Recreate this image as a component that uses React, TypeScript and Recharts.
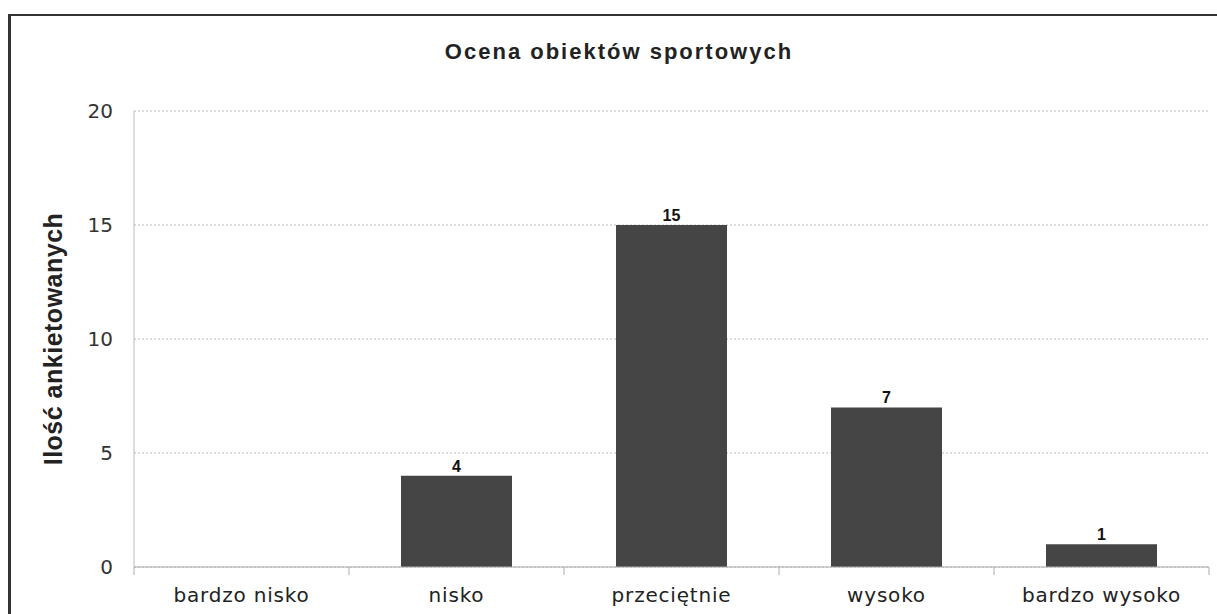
import React from 'react';
import { BarChart, Bar, XAxis, YAxis, CartesianGrid, LabelList } from 'recharts';

const categories = ['bardzo nisko', 'nisko', 'przeciętnie', 'wysoko', 'bardzo wysoko'];
const counts = [0, 4, 15, 7, 1];
const yTicks = [0, 5, 10, 15, 20];

const data = categories.map((category, i) => ({ category, count: counts[i] }));

const XTick = (props: any) => {
  const { x, y, payload, index, visibleTicksCount, width } = props;
  const half = payload && payload.offset ? payload.offset : width / visibleTicksCount / 2;
  const last = index === visibleTicksCount - 1;
  return (
    <g>
      <line x1={x - half} x2={x - half} y1={y} y2={y + 8} stroke="#aaa" />
      {last && <line x1={x + half} x2={x + half} y1={y} y2={y + 8} stroke="#aaa" />}
      <text
        x={x}
        y={y + 35}
        textAnchor="middle"
        fill="#222"
        fontSize={20}
        fontFamily="DejaVu Sans"
        letterSpacing={0.8}
      >
        {payload.value}
      </text>
    </g>
  );
};

const YLabel = (props: any) => {
  const vb = props.viewBox;
  const cx = 52;
  const cy = vb.y + vb.height / 2;
  return (
    <text
      x={cx}
      y={cy}
      transform={`rotate(-90, ${cx}, ${cy})`}
      textAnchor="middle"
      fill="#222"
      fontSize={25}
      fontWeight="bold"
      fontFamily="Liberation Sans"
      letterSpacing={0.5}
    >
      Ilość ankietowanych
    </text>
  );
};

const App: React.FC = () => {
  return (
    <div
      style={{
        position: 'absolute',
        left: 8,
        top: 14,
        width: 1209,
        height: 600,
        boxSizing: 'border-box',
        borderTop: '2px solid #333',
        borderLeft: '3px solid #333',
        background: '#fff',
      }}
    >
      <div
        style={{
          position: 'absolute',
          left: 0,
          width: 1216,
          top: 25,
          textAlign: 'center',
          fontFamily: 'Liberation Sans',
          fontWeight: 'bold',
          fontSize: 22,
          lineHeight: '22px',
          letterSpacing: 2,
          color: '#222',
        }}
      >
        Ocena obiektów sportowych
      </div>
      <div style={{ position: 'absolute', left: -1, top: 0 }}>
        <BarChart
          width={1207}
          height={598}
          data={data}
          margin={{ top: 95, right: 8, bottom: 0, left: 0 }}
        >
          <CartesianGrid horizontal vertical={false} stroke="#bbb" strokeDasharray="2 2" />
          <XAxis
            dataKey="category"
            height={47}
            tickSize={0}
            tickMargin={0}
            tickLine={false}
            axisLine={{ stroke: '#aaa' }}
            tick={<XTick />}
            interval={0}
          />
          <YAxis
            width={124}
            domain={[0, 20]}
            ticks={yTicks}
            tickSize={0}
            tickMargin={21}
            tickLine={false}
            axisLine={{ stroke: '#bbb' }}
            tick={{ fill: '#333', fontSize: 20, fontFamily: 'DejaVu Sans' }}
            label={<YLabel />}
          />
          <YAxis
            yAxisId="r"
            orientation="right"
            width={0}
            domain={[0, 20]}
            ticks={yTicks}
            tick={false}
            tickLine={false}
            axisLine={{ stroke: '#bbb' }}
          />
          <Bar dataKey="count" fill="#454545" barSize={111} isAnimationActive={false}>
            <LabelList
              dataKey="count"
              position="top"
              offset={4}
              fill="#111"
              fontSize={16}
              fontWeight="bold"
              fontFamily="Liberation Sans"
              formatter={(v: any) => (v === 0 ? '' : v)}
            />
          </Bar>
        </BarChart>
      </div>
    </div>
  );
};

export default App;
